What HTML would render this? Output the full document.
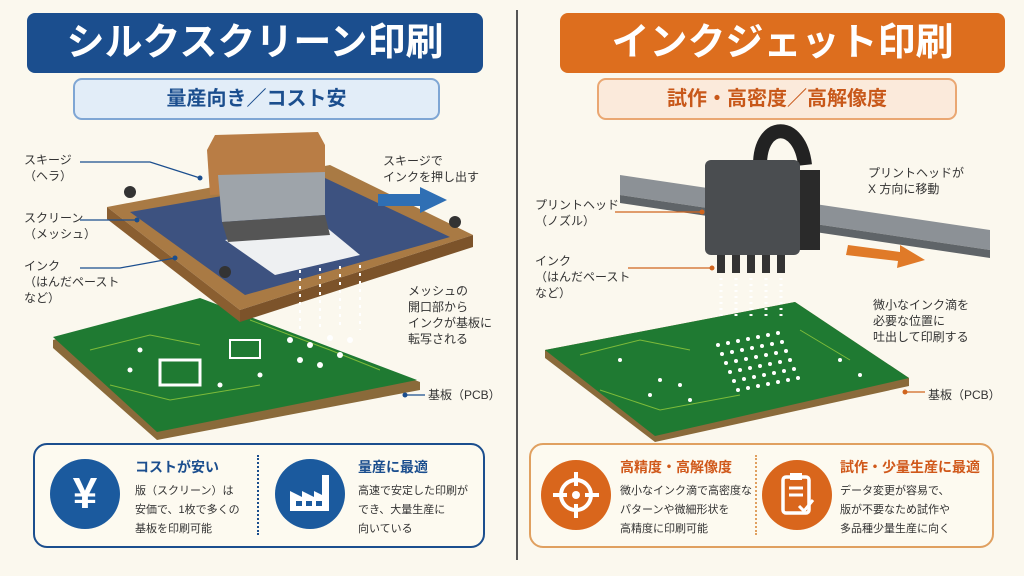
<!DOCTYPE html>
<html><head><meta charset="utf-8"><style>
body{margin:0;width:1024px;height:576px;background:#fbf8ee;overflow:hidden;font-family:"Liberation Sans","Noto Sans CJK JP",sans-serif;position:relative}
.a{position:absolute}
.t{color:#fff;font-weight:bold;font-size:38px;text-align:center;line-height:60px;border-radius:8px}
.s{font-size:20px;font-weight:bold;text-align:center;line-height:38px;border-radius:9px;border:2px solid}
.lb{font-size:12px;line-height:16px;color:#333}
.box{border:2.5px solid;border-radius:14px;background:#fdfaf0}
.ci{width:70px;height:70px;border-radius:50%}
.h{font-weight:bold;font-size:14px}
.p{font-size:11px;line-height:19px;color:#333}
</style></head><body>
<div class="a" style="left:516px;top:10px;width:2px;height:550px;background:#555"></div>
<div class="a t" style="left:27px;top:13px;width:456px;height:60px;background:#1b4e8e">シルクスクリーン印刷</div>
<div class="a s" style="left:73px;top:78px;width:363px;height:38px;background:#e2edf8;border-color:#7fa6d4;color:#1b4e8e">量産向き／コスト安</div>
<div class="a t" style="left:560px;top:13px;width:445px;height:60px;background:#dd6e1e">インクジェット印刷</div>
<div class="a s" style="left:597px;top:78px;width:356px;height:38px;background:#fbeadb;border-color:#eaa772;color:#c8581a">試作・高密度／高解像度</div>

<svg class="a" style="left:0;top:0" width="1024" height="576">
<!-- left pcb -->
<polygon points="53,340 200,300 420,382 420,390 157,440 53,348" fill="#8a6a3a"/>
<polygon points="53,337 200,298 417,380 157,432" fill="#1f7a32"/>
<g stroke="#7dbb3a" stroke-width="1" fill="none"><path d="M90,350 L150,335 L200,345"/><path d="M110,385 L170,400 L260,385"/><path d="M250,320 L330,350 L380,370"/></g>
<g fill="#fff"><rect x="160" y="360" width="40" height="25" fill="none" stroke="#fff" stroke-width="3"/>
<rect x="230" y="340" width="30" height="18" fill="none" stroke="#fff" stroke-width="2"/>
<circle cx="290" cy="340" r="3"/><circle cx="310" cy="345" r="3"/><circle cx="330" cy="338" r="3"/><circle cx="300" cy="360" r="3"/><circle cx="320" cy="365" r="3"/><circle cx="340" cy="355" r="3"/><circle cx="350" cy="340" r="3"/><circle cx="140" cy="350" r="2.5"/><circle cx="130" cy="370" r="2.5"/><circle cx="220" cy="385" r="2.5"/><circle cx="260" cy="375" r="2.5"/></g>
<!-- frame -->
<polygon points="107,207 330,165 473,235 240,310" fill="#a97a44"/>
<polygon points="107,207 240,310 240,322 107,219" fill="#8a5e30"/>
<polygon points="240,310 473,235 473,247 240,322" fill="#7c532a"/>
<polygon points="130,212 325,178 450,237 245,295" fill="#3d5280"/>
<polygon points="225,240 320,222 360,255 275,275" fill="#eef0f2"/>
<circle cx="130" cy="192" r="6" fill="#333"/><circle cx="455" cy="222" r="6" fill="#333"/><circle cx="225" cy="272" r="6" fill="#333"/>
<!-- squeegee -->
<polygon points="207,150 215,135 318,132 325,145 325,190 210,195" fill="#b97d45"/>
<polygon points="218,175 325,172 325,215 222,222" fill="#9ea4aa"/>
<polygon points="222,222 325,215 330,235 228,242" fill="#555"/>
<g stroke="#fff" stroke-width="2" stroke-dasharray="3,5"><line x1="300" y1="270" x2="300" y2="330"/><line x1="320" y1="268" x2="320" y2="330"/><line x1="340" y1="266" x2="340" y2="330"/><line x1="360" y1="265" x2="360" y2="330"/></g>
<polygon points="378,194 420,194 420,187 447,200 420,213 420,206 378,206" fill="#2f6fb4"/>
<g stroke="#1b4e8e" stroke-width="1.2" fill="none"><path d="M80,162 H150 L200,178"/><path d="M80,220 H135"/><path d="M80,268 H120 L175,258"/><path d="M405,395 H425"/></g>
<g fill="#1b4e8e"><circle cx="200" cy="178" r="2.5"/><circle cx="137" cy="220" r="2.5"/><circle cx="175" cy="258" r="2.5"/><circle cx="405" cy="395" r="2.5"/></g>

<!-- right pcb -->
<polygon points="545,350 795,302 909,378 909,386 655,442 545,358" fill="#8a6a3a"/>
<polygon points="545,350 795,302 909,378 655,436" fill="#1f7a32"/>
<g stroke="#7dbb3a" stroke-width="1" fill="none"><path d="M580,355 L640,340 L690,350"/><path d="M600,390 L660,410 L740,395"/><path d="M800,330 L850,360"/></g>
<g fill="#fff">
<g id="dots"><circle cx="718" cy="345" r="2"/><circle cx="728" cy="343" r="2"/><circle cx="738" cy="341" r="2"/><circle cx="748" cy="339" r="2"/><circle cx="758" cy="337" r="2"/><circle cx="768" cy="335" r="2"/><circle cx="778" cy="333" r="2"/></g>
<use href="#dots" y="9" x="4"/><use href="#dots" y="18" x="8"/><use href="#dots" y="27" x="12"/><use href="#dots" y="36" x="16"/><use href="#dots" y="45" x="20"/>
<circle cx="660" cy="380" r="2"/><circle cx="680" cy="385" r="2"/><circle cx="650" cy="395" r="2"/><circle cx="690" cy="400" r="2"/><circle cx="620" cy="360" r="2"/><circle cx="840" cy="360" r="2"/><circle cx="860" cy="375" r="2"/></g>
<!-- rail -->
<polygon points="620,175 990,230 990,250 620,195" fill="#8c9196"/>
<polygon points="620,195 990,250 990,258 620,203" fill="#5f6468"/>
<path d="M760,165 C760,120 800,120 805,165" stroke="#222" stroke-width="14" fill="none"/>
<rect x="795" y="170" width="25" height="80" fill="#2a2a2a"/>
<rect x="705" y="160" width="95" height="95" rx="6" fill="#4a4d50"/>
<g fill="#333"><rect x="717" y="255" width="8" height="18"/><rect x="732" y="255" width="8" height="18"/><rect x="747" y="255" width="8" height="18"/><rect x="762" y="255" width="8" height="18"/><rect x="777" y="255" width="8" height="18"/></g>
<g stroke="#fff" stroke-width="3" stroke-dasharray="2,4"><line x1="721" y1="278" x2="721" y2="320"/><line x1="736" y1="278" x2="736" y2="320"/><line x1="751" y1="278" x2="751" y2="320"/><line x1="766" y1="278" x2="766" y2="320"/><line x1="781" y1="278" x2="781" y2="320"/></g>
<polygon points="848,245 900,252 900,245 925,260 897,268 898,261 846,255" fill="#e07a28"/>
<g stroke="#d0651e" stroke-width="1.2" fill="none"><path d="M615,212 H702"/><path d="M628,268 H712"/><path d="M905,392 H925"/></g>
<g fill="#d0651e"><circle cx="702" cy="212" r="2.5"/><circle cx="712" cy="268" r="2.5"/><circle cx="905" cy="392" r="2.5"/></g>
</svg>

<div class="a lb" style="left:24px;top:152px">スキージ<br>（ヘラ）</div>
<div class="a lb" style="left:24px;top:210px">スクリーン<br>（メッシュ）</div>
<div class="a lb" style="left:24px;top:258px">インク<br>（はんだペースト<br>など）</div>
<div class="a lb" style="left:383px;top:153px">スキージで<br>インクを押し出す</div>
<div class="a lb" style="left:408px;top:283px">メッシュの<br>開口部から<br>インクが基板に<br>転写される</div>
<div class="a lb" style="left:428px;top:387px">基板（PCB）</div>
<div class="a lb" style="left:535px;top:197px">プリントヘッド<br>（ノズル）</div>
<div class="a lb" style="left:535px;top:253px">インク<br>（はんだペースト<br>など）</div>
<div class="a lb" style="left:868px;top:165px">プリントヘッドが<br>X 方向に移動</div>
<div class="a lb" style="left:873px;top:297px">微小なインク滴を<br>必要な位置に<br>吐出して印刷する</div>
<div class="a lb" style="left:928px;top:387px">基板（PCB）</div>

<div class="a box" style="left:33px;top:443px;width:448px;height:101px;border-color:#1b4e8e"></div>
<div class="a" style="left:257px;top:455px;height:80px;border-left:2px dotted #1b4e8e"></div>
<div class="a ci" style="left:50px;top:459px;background:#1b5a9e;color:#fff;font-size:44px;font-weight:bold;text-align:center;line-height:70px">¥</div>
<div class="a ci" style="left:275px;top:459px;background:#1b5a9e"><svg width="70" height="70"><path d="M15,52 V32 L27,38 V32 L39,38 V32 L47,36 V16 H54 V52 Z" fill="#fff"/><g fill="#1b5a9e"><rect x="21" y="42" width="6" height="5"/><rect x="31" y="42" width="6" height="5"/><rect x="41" y="42" width="6" height="5"/></g></svg></div>
<div class="a h" style="left:135px;top:457px;color:#1b4e8e">コストが安い</div>
<div class="a p" style="left:135px;top:482px">版（スクリーン）は<br>安価で、1枚で多くの<br>基板を印刷可能</div>
<div class="a h" style="left:358px;top:457px;color:#1b4e8e">量産に最適</div>
<div class="a p" style="left:358px;top:482px">高速で安定した印刷が<br>でき、大量生産に<br>向いている</div>

<div class="a box" style="left:529px;top:443px;width:461px;height:101px;border-color:#e0a060"></div>
<div class="a" style="left:755px;top:455px;height:80px;border-left:2px dotted #e0a060"></div>
<div class="a ci" style="left:541px;top:460px;background:#d9661c"><svg width="70" height="70"><circle cx="35" cy="35" r="15" stroke="#fff" stroke-width="4" fill="none"/><circle cx="35" cy="35" r="4" fill="#fff"/><g stroke="#fff" stroke-width="4"><line x1="35" y1="12" x2="35" y2="26"/><line x1="35" y1="44" x2="35" y2="58"/><line x1="12" y1="35" x2="26" y2="35"/><line x1="44" y1="35" x2="58" y2="35"/></g></svg></div>
<div class="a ci" style="left:762px;top:460px;background:#d9661c"><svg width="70" height="70"><rect x="21" y="17" width="26" height="36" rx="3" stroke="#fff" stroke-width="3.5" fill="none"/><rect x="28" y="13" width="12" height="7" fill="#fff"/><g stroke="#fff" stroke-width="3"><line x1="27" y1="28" x2="41" y2="28"/><line x1="27" y1="35" x2="41" y2="35"/><path d="M37,46 l5,5 l9,-11" fill="none"/></g></svg></div>
<div class="a h" style="left:620px;top:457px;color:#d0581a">高精度・高解像度</div>
<div class="a p" style="left:620px;top:482px">微小なインク滴で高密度な<br>パターンや微細形状を<br>高精度に印刷可能</div>
<div class="a h" style="left:840px;top:457px;color:#d0581a">試作・少量生産に最適</div>
<div class="a p" style="left:840px;top:482px">データ変更が容易で、<br>版が不要なため試作や<br>多品種少量生産に向く</div>
</body></html>
